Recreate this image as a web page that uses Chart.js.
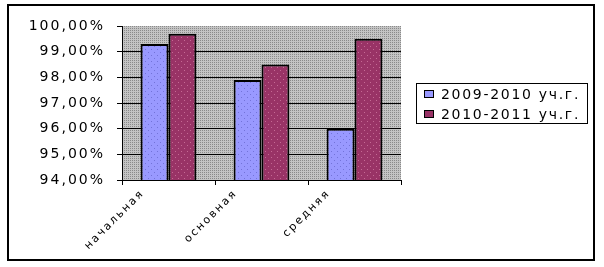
<!DOCTYPE html>
<html>
<head>
<meta charset="utf-8">
<script src="https://cdn.jsdelivr.net/npm/chart.js@4.4.0/dist/chart.umd.min.js"></script>
<style>
  html, body { margin: 0; padding: 0; background: #fff; }
  #wrap { position: relative; width: 604px; height: 267px; }
  #frame { position: absolute; left: 7px; top: 4px; width: 584px; height: 253px; border: 2px solid #000; }
  canvas { position: absolute; left: 0; top: 0; }
</style>
</head>
<body>
<div id="wrap">
  <div id="frame"></div>
  <canvas id="chart" width="604" height="267"></canvas>
</div>
<script>
const categories = ['начальная', 'основная', 'средняя'];
const seriesNames = ['2009-2010 уч.г.', '2010-2011 уч.г.'];
const values2009 = [99.3, 97.9, 96.0];
const values2010 = [99.7, 98.5, 99.5];
const yTicks = [94, 95, 96, 97, 98, 99, 100];

document.addEventListener('DOMContentLoaded', function() {
  // small tiled patterns to imitate the dotted fills
  function makePattern(size, base, dot, dots) {
    const c = document.createElement('canvas');
    c.width = size; c.height = size;
    const g = c.getContext('2d');
    g.fillStyle = base;
    g.fillRect(0, 0, size, size);
    g.fillStyle = dot;
    dots.forEach(p => g.fillRect(p[0], p[1], 1, 1));
    return g.createPattern(c, 'repeat');
  }

  const plotFill = makePattern(2, '#c4c4c4', '#8a8a8a', [[0, 0]]);
  const blueFill = makePattern(6, '#9999ff', '#7373d9', [[1, 1], [4, 4]]);
  const redFill = makePattern(6, '#993366', '#c46a94', [[1, 1], [4, 4]]);

  const font = "'DejaVu Sans', sans-serif";

  const excelLook = {
    id: 'excelLook',
    beforeDraw(chart) {
      const { ctx, chartArea: a } = chart;
      ctx.fillStyle = plotFill;
      ctx.fillRect(a.left, a.top, a.right - a.left, a.bottom - a.top);
      ctx.letterSpacing = '2px';
    },
    afterDraw(chart) {
      const ctx = chart.ctx;
      ctx.save();
      ctx.letterSpacing = '1.7px';
      ctx.fillStyle = '#fff';
      ctx.fillRect(416.5, 83.5, 171, 40);
      ctx.strokeStyle = '#000';
      ctx.lineWidth = 1;
      ctx.strokeRect(416.5, 83.5, 171, 40);
      ctx.font = '14px ' + font;
      ctx.textBaseline = 'middle';
      chart.data.datasets.forEach((ds, i) => {
        const y = 94 + i * 20;
        ctx.fillStyle = ds.swatch;
        ctx.fillRect(424.5, y - 3.5, 9, 7);
        ctx.strokeRect(424.5, y - 3.5, 9, 7);
        ctx.fillStyle = '#000';
        ctx.fillText(ds.label, 441, y + 1);
      });
      ctx.restore();
    }
  };

  const ctx = document.getElementById('chart').getContext('2d');
  new Chart(ctx, {
    type: 'bar',
    data: {
      labels: categories,
      datasets: [
        {
          label: seriesNames[0],
          data: values2009,
          backgroundColor: blueFill,
          swatch: '#9999ff',
          borderColor: '#000',
          borderWidth: 2,
          borderSkipped: false
        },
        {
          label: seriesNames[1],
          data: values2010,
          backgroundColor: redFill,
          swatch: '#993366',
          borderColor: '#000',
          borderWidth: 2,
          borderSkipped: false
        }
      ]
    },
    options: {
      responsive: false,
      animation: false,
      events: [],
      layout: { padding: { top: 26, right: 203, bottom: 0, left: 0 } },
      datasets: { bar: { categoryPercentage: 0.6, barPercentage: 1 } },
      scales: {
        x: {
          afterFit(scale) { scale.height = 87; },
          grid: {
            offset: true,
            drawOnChartArea: false,
            tickLength: 5,
            tickColor: '#000'
          },
          border: { color: '#000', width: 1 },
          ticks: {
            autoSkip: false,
            minRotation: 45,
            maxRotation: 45,
            labelOffset: -26,
            padding: 2,
            color: '#000',
            font: { family: font, size: 11 }
          }
        },
        y: {
          min: yTicks[0],
          max: yTicks[yTicks.length - 1],
          afterFit(scale) { scale.width = 122; },
          grid: {
            color: c => (c.tick && c.tick.value === yTicks[yTicks.length - 1]) ? 'rgba(0,0,0,0)' : '#000',
            tickLength: 5,
            tickColor: '#000'
          },
          border: { color: '#000', width: 1 },
          ticks: {
            stepSize: 1,
            padding: 12,
            color: '#000',
            font: { family: font, size: 14 },
            callback: v => v.toFixed(2).replace('.', ',') + '%'
          }
        }
      },
      plugins: {
        legend: { display: false },
        tooltip: { enabled: false }
      }
    },
    plugins: [excelLook]
  });
});
</script>
</body>
</html>
